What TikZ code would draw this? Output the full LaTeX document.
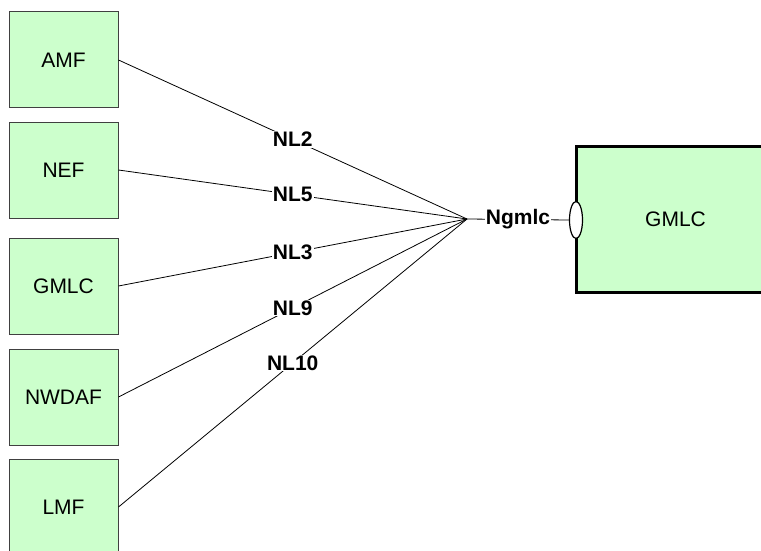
\documentclass[tikz,border=0pt]{standalone}
\usepackage{fontspec}
\setmainfont{Liberation Sans}
\usetikzlibrary{shapes.geometric}
\definecolor{boxfill}{HTML}{CCFFCC}
\definecolor{boxline}{HTML}{404040}
\begin{document}
\begin{tikzpicture}[x=1pt,y=-1pt,
  nfbox/.style={draw=boxline,line width=1pt,fill=boxfill,minimum width=109pt,minimum height=96pt,inner sep=0pt,font=\fontsize{21}{25}\selectfont},
  bigbox/.style={draw=black,line width=3pt,fill=boxfill,minimum width=199pt,minimum height=146pt,inner sep=0pt,font=\fontsize{21}{25}\selectfont},
  link/.style={draw=black,line width=0.8pt},
  lbl/.style={fill=white,inner sep=1pt,font=\fontsize{21}{25}\selectfont\bfseries},
  port/.style={ellipse,draw=black,line width=1.2pt,fill=white,minimum width=13pt,minimum height=37pt,inner sep=0pt}]
\useasboundingbox (0,0) rectangle (761,551);
\clip (0,0) rectangle (761,551);
\node[nfbox] (amf) at (63.5,60) {AMF};
\node[nfbox] (nef) at (63.5,170) {NEF};
\node[nfbox] (gmlcl) at (63.5,286) {GMLC};
\node[nfbox] (nwdaf) at (63.5,397) {NWDAF};
\node[nfbox] (lmf) at (63.5,507) {LMF};
\node[bigbox] (gmlcr) at (675.5,219) {GMLC};
\node[port] (portr) at (576,220) {};
\coordinate (hub) at (467,219);
\draw[link] (amf.east) -- node[lbl] {NL2} (hub);
\draw[link] (nef.east) -- node[lbl] {NL5} (hub);
\draw[link] (gmlcl.east) -- node[lbl] {NL3} (hub);
\draw[link] (nwdaf.east) -- node[lbl] {NL9} (hub);
\draw[link] (lmf.east) -- node[lbl] {NL10} (hub);
\draw[link] (hub) -- node[lbl] {Ngmlc} (portr.west);
\end{tikzpicture}
\end{document}
